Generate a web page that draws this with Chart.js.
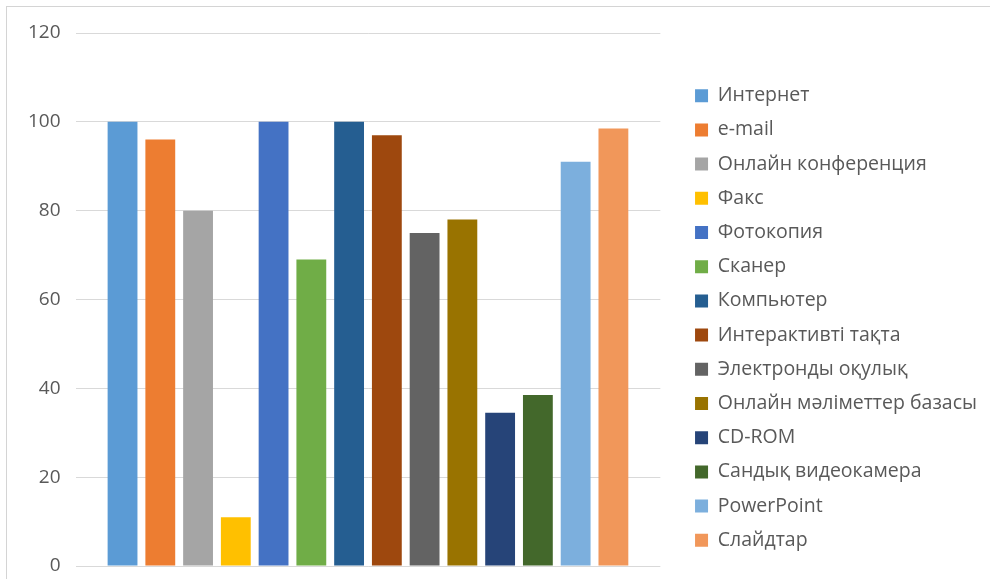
<!DOCTYPE html>
<html>
<head>
<meta charset="utf-8">
<script src="https://cdn.jsdelivr.net/npm/chart.js@4"></script>
<style>
  html, body { margin: 0; padding: 0; background: #fff; overflow: hidden; }
  #wrap { position: relative; width: 990px; height: 579px; }
  #frame { position: absolute; left: 6px; top: 6px; width: 1100px; height: 700px; border: 1px solid #d4d4d4; box-sizing: border-box; }
  canvas { position: absolute; left: 0; top: 0; }
</style>
</head>
<body>
<div id="wrap">
  <div id="frame"></div>
  <canvas id="myChart" width="990" height="579"></canvas>
</div>
<script>
const seriesNames = [
    'Интернет', 'e-mail', 'Онлайн конференция', 'Факс', 'Фотокопия', 'Сканер',
    'Компьютер', 'Интерактивті тақта', 'Электронды оқулық', 'Онлайн мәліметтер базасы',
    'CD-ROM', 'Сандық видеокамера', 'PowerPoint', 'Слайдтар'
];

const seriesValues = [100, 96, 80, 11, 100, 69, 100, 97, 75, 78, 34.5, 38.5, 91, 98.5];

const seriesColors = [
    '#5B9BD5', '#ED7D31', '#A5A5A5', '#FFC000', '#4472C4', '#70AD47',
    '#255E91', '#9E480E', '#636363', '#997300', '#264478', '#43682B',
    '#7CAFDD', '#F1975A'
];

const yTicks = [0, 20, 40, 60, 80, 100, 120];

const textColor = '#595959';
const fontFamily = "'Open Sans', 'Noto Sans', sans-serif";

const ctx = document.getElementById('myChart').getContext('2d');
const myChart = new Chart(ctx, {
    type: 'bar',
    data: {
        labels: [''],
        datasets: seriesNames.map((name, i) => ({
            label: name,
            data: [seriesValues[i]],
            backgroundColor: seriesColors[i],
            borderWidth: 0,
            categoryPercentage: 0.904,
            barPercentage: 0.79
        }))
    },
    options: {
        responsive: false,
        animation: false,
        layout: {
            padding: { left: 13, right: 3, top: 33, bottom: 13 }
        },
        scales: {
            x: {
                display: false
            },
            y: {
                min: 0,
                max: 120,
                afterBuildTicks: (scale) => {
                    scale.ticks = yTicks.map(v => ({ value: v }));
                },
                afterFit: (scale) => {
                    // tick padding should only push labels sideways
                    scale.paddingTop = 12;
                    scale.paddingBottom = 12;
                },
                grid: {
                    color: '#D9D9D9',
                    lineWidth: 1,
                    drawTicks: false
                },
                border: { display: false },
                ticks: {
                    color: textColor,
                    padding: 15,
                    font: { family: fontFamily, size: 19 }
                }
            },
            gap: {
                // empty right axis to keep the gap between plot and legend
                position: 'right',
                display: true,
                grid: { display: false, drawTicks: false },
                border: { display: false },
                ticks: { display: false },
                afterFit: (scale) => { scale.width = 20; }
            }
        },
        plugins: {
            tooltip: { enabled: false },
            legend: {
                position: 'right',
                maxWidth: 340,
                title: {
                    display: true,
                    text: '',
                    font: { size: 10 },
                    padding: { top: 25, bottom: 0 }
                },
                labels: {
                    color: textColor,
                    boxWidth: 13,
                    boxHeight: 13,
                    padding: 14.7,
                    font: { family: fontFamily, size: 19.5 }
                }
            }
        }
    }
});
</script>
</body>
</html>
